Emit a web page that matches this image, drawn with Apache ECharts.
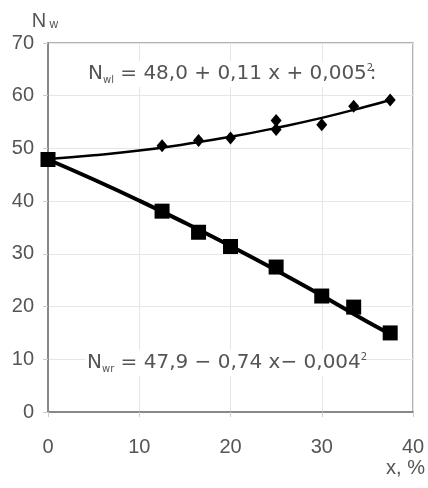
<!DOCTYPE html>
<html>
<head>
<meta charset="utf-8">
<script src="https://cdn.jsdelivr.net/npm/echarts@6/dist/echarts.min.js"></script>
<style>
  html, body { margin: 0; padding: 0; background: #fff; }
  #chart { width: 428px; height: 488px; }
</style>
</head>
<body>
<div id="chart"></div>
<script>
// measured points, upper (diamonds) and lower (squares)
const upperX = [0, 12.5, 16.5, 20, 25, 25, 30, 33.5, 37.5]
const upperY = [48, 50.5, 51.5, 52, 55.3, 53.6, 54.5, 58, 59.2]
const lowerX = [0, 12.5, 16.5, 20, 25, 30, 33.5, 37.5]
const lowerY = [47.9, 38.1, 34.1, 31.4, 27.5, 22, 19.9, 15]

// trend curves
const trendX = [0, 5, 10, 15, 20, 25, 30, 35, 37.5]
const upperTrend = [48, 48.7, 49.6, 50.8, 52.2, 53.9, 55.8, 58, 59.2]
const lowerTrend = [47.9, 44.1, 40.1, 35.9, 31.5, 26.9, 22.1, 17.1, 14.8]

const xTicks = [0, 10, 20, 30, 40]
const yTicks = [0, 10, 20, 30, 40, 50, 60, 70]

const pair = (xs, ys) => xs.map((x, i) => [x, ys[i]])

const chart = echarts.init(document.getElementById('chart'))
const font = 'Liberation Sans, Arial, sans-serif'
const eqFont = 'DejaVu Sans, sans-serif'
const grey = '#555'

const eqRich = {
  n: { fill: grey, fontSize: 20, fontFamily: eqFont },
  s: { fill: grey, fontSize: 10, fontFamily: eqFont, verticalAlign: 'bottom', padding: [8, 0, 0, 0] },
  t: { fill: grey, fontSize: 20, fontFamily: eqFont },
  p: { fill: grey, fontSize: 10, fontFamily: eqFont, padding: [0, 0, 12, 0], width: 3 }
}

chart.setOption({
  animation: false,
  grid: { left: 48, top: 43, right: 12, bottom: 76, show: true, borderColor: '#999', borderWidth: 1.5 },
  xAxis: {
    type: 'value', min: xTicks[0], max: xTicks[xTicks.length - 1], interval: 10,
    axisLine: { lineStyle: { color: '#888', width: 2 } },
    axisTick: { show: true, length: 5, lineStyle: { color: '#ccc' } },
    axisLabel: { color: grey, fontSize: 20, fontFamily: font, margin: 25 },
    splitLine: { lineStyle: { color: '#e6e6e6' } },
    name: 'x, %', nameLocation: 'end', nameGap: 12,
    nameTextStyle: { color: grey, fontSize: 20, fontFamily: font, align: 'right', verticalAlign: 'top', padding: [46, 0, 0, 0] }
  },
  yAxis: {
    type: 'value', min: yTicks[0], max: yTicks[yTicks.length - 1], interval: 10,
    axisLine: { lineStyle: { color: '#888', width: 2 } },
    axisTick: { show: true, length: 5, lineStyle: { color: '#ccc' } },
    axisLabel: { color: grey, fontSize: 20, fontFamily: font, margin: 14 },
    splitLine: { lineStyle: { color: '#e6e6e6' } },
    name: '{n|N} {s|w}', nameLocation: 'end', nameGap: 12,
    nameTextStyle: {
      align: 'center', padding: [0, 6, 0, 0],
      rich: {
        n: { color: grey, fontSize: 20, fontFamily: font },
        s: { color: grey, fontSize: 12, fontFamily: font, verticalAlign: 'bottom', padding: [5, 0, 0, 0] }
      }
    }
  },
  series: [
    {
      type: 'line', data: pair(trendX, upperTrend), smooth: true, showSymbol: false,
      lineStyle: { color: '#000', width: 2.5 }, z: 2
    },
    {
      type: 'line', data: pair(trendX, lowerTrend), smooth: true, showSymbol: false,
      lineStyle: { color: '#000', width: 4 }, z: 2
    },
    {
      type: 'scatter', data: pair(upperX, upperY), symbol: 'diamond', symbolSize: [11, 13],
      itemStyle: { color: '#000', opacity: 1 }, z: 3
    },
    {
      type: 'scatter', data: pair(lowerX, lowerY), symbol: 'rect', symbolSize: 15,
      itemStyle: { color: '#000', opacity: 1 }, z: 3
    }
  ],
  graphic: [
    {
      type: 'text', left: 86, top: 61, z: 10,
      style: {
        text: '{n|N}{s|wl}{t| = 48,0 + 0,11 x + 0,005}{p|2}{t|:}',
        backgroundColor: '#fff', padding: [2, 2],
        rich: eqRich
      }
    },
    {
      type: 'text', left: 85, top: 350, z: 10,
      style: {
        text: '{n|N}{s|wr}{t| = 47,9 − 0,74 x− 0,004}{p|2}',
        backgroundColor: '#fff', padding: [2, 2],
        rich: eqRich
      }
    }
  ]
})
</script>
</body>
</html>
